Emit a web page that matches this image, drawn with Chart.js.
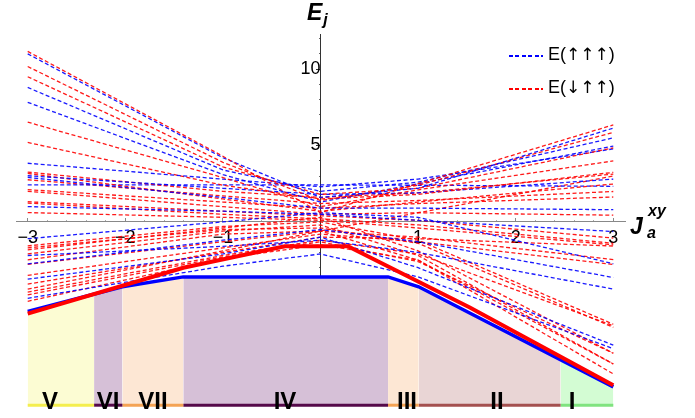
<!DOCTYPE html>
<html>
<head>
<meta charset="utf-8">
<script src="https://cdn.jsdelivr.net/npm/chart.js@4.4.1/dist/chart.umd.min.js"></script>
<style>
  body { margin: 0; background: #fff; }
  #wrap { position: relative; width: 695px; height: 418px; font-family: "Liberation Sans", Arial, sans-serif; }
  #c { position: absolute; left: 0; top: 0; }
  .t { position: absolute; white-space: nowrap; color: #000; }
  .bi { font-style: italic; font-weight: bold; }
  .reg { font-weight: bold; font-size: 24px; line-height: 24px; transform: translateX(-50%); }
  .leg { font-size: 18px; line-height: 18px; }
  .arr { font-family: "DejaVu Sans", sans-serif; font-size: 17px; }
  .dash { position: absolute; width: 34px; height: 1.5px; }
</style>
</head>
<body>
<div id="wrap">
  <canvas id="c" width="695" height="418"></canvas>

  <div class="t bi" style="left:307px;top:1px;font-size:23px;line-height:23px">E<span style="font-size:16px;position:relative;top:5px;margin-left:1px">j</span></div>

  <div class="t bi" style="left:630px;top:215px;font-size:23px;line-height:23px">J</div>
  <div class="t bi" style="left:648px;top:203px;font-size:16px;line-height:16px">xy</div>
  <div class="t bi" style="left:647px;top:225px;font-size:16px;line-height:16px">a</div>

  <div class="dash" style="left:509px;top:55px;background:repeating-linear-gradient(to right,#0000ff 0 4px,transparent 4px 6.5px)"></div>
  <div class="t leg" style="left:548px;top:45px">E(<span class="arr">↑↑↑</span>)</div>
  <div class="dash" style="left:509px;top:88px;background:repeating-linear-gradient(to right,#ff0000 0 4px,transparent 4px 6.5px)"></div>
  <div class="t leg" style="left:548px;top:78px">E(<span class="arr">↓↑↑</span>)</div>

  <div id="labels"></div>
</div>
<script>
// x positions where the dashed levels are sampled
const knots = [-3, -1, 0, 1, 3];

// E(↑↑↑) levels, values at the knots
const blueLines = [
  [11.0, 4.2, 1.6, 2.2, 6.14],
  [8.8, 3.4, 2.0, 2.6, 5.5],
  [7.83, 3.1, 1.3, 2.5, 4.96],
  [3.84, 2.8, 2.3, 2.8, 4.78],
  [3.02, 2.2, 1.8, 1.9, 2.8],
  [2.91, 1.6, 0.9, 0.9, 0.8],
  [2.42, 2.42, 2.42, 2.4, 2.33],
  [1.0, 0.7, 0.5, 0.1, -0.63],
  [-1.1, 0.0, 0.6, 0.3, -2.74],
  [-2.75, -1.2, -0.5, -1.3, -3.64],
  [-3.75, -2.1, -1.0, -3.0, -8.07],
  [-5.0, -2.9, -2.1, -3.6, -8.3],
  [-2.2, -1.6, -1.2, -2.0, -4.4]
];

// E(↓↑↑) levels
const redLines = [
  [11.16, 4.3, 0.6, 2.5, 6.35],
  [10.17, 3.9, 1.4, 2.4, 5.86],
  [9.5, 3.6, 1.8, 2.2, 4.85],
  [6.53, 2.9, 1.0, 2.1, 3.99],
  [5.2, 2.4, 1.5, 1.8, 3.24],
  [3.26, 2.0, 1.6, 1.9, 3.13],
  [3.17, 1.5, 0.7, 1.3, 2.48],
  [2.76, 1.7, 1.2, 1.4, 1.99],
  [2.11, 1.3, 0.9, 1.2, 1.63],
  [2.0, 1.0, 0.5, 0.6, 0.44],
  [1.32, 0.7, 0.4, 0.1, -1.06],
  [1.23, 0.5, 0.2, -0.2, -1.4],
  [0.61, 0.3, 0.1, -0.4, -1.5],
  [-1.57, -0.3, 0.0, -1.2, -6.7],
  [-1.7, -0.5, -0.4, -1.4, -6.9],
  [-1.83, -0.4, 0.3, -1.9, -8.6],
  [-2.1, -0.6, -0.2, -2.2, -9.3],
  [-2.48, -0.8, -0.6, -2.5, -9.95],
  [-2.78, -1.3, -0.6, -1.0, -2.47],
  [-3.5, -1.7, -0.8, -1.3, -2.79],
  [-4.07, -2.0, -1.0, -1.1, -1.58],
  [-4.4, -1.9, -0.6, 0.6, 3.0],
  [-4.6, -2.2, -1.2, -2.1, -6.8],
  [-4.78, -2.3, -1.3, -2.6, -8.6],
  [-5.2, -2.4, -1.5, -2.5, -9.3]
];

// lowest level of each family (thick lines)
const blueGroundX = [-3, -2.03, -1.406, 0.692, 1.006, 3];
const blueGroundY = [-5.86, -4.25, -3.6, -3.6, -4.25, -10.8];
const redGroundX = [-3, -1.406, -0.365, 0.28, 1.53, 3];
const redGroundY = [-6.0, -3.0, -1.6, -1.6, -5.6, -10.7];

// phases
const regionNames = ['V', 'VI', 'VII', 'IV', 'III', 'II', 'I'];
const regionEdges = [-3, -2.32, -2.03, -1.406, 0.692, 1.006, 2.46, 3];

const xTicks = [-3, -2, -1, 1, 2, 3];
const yTicks = [-10, -5, 5, 10];

const fillColors = ['#fcfcd3', '#d6c0d7', '#fde7d4', '#d6c0d7', '#fde7d4', '#e9d5d5', '#d3fcd3'];
const barColors = ['#f4ee4e', '#55094a', '#f4a354', '#55094a', '#f4a354', '#a4504f', '#80e37f'];

function interp(xs, ys, x) {
  for (let i = 0; i < xs.length - 1; i++) {
    if (x >= xs[i] && x <= xs[i + 1]) {
      let t = (x - xs[i]) / (xs[i + 1] - xs[i]);
      return ys[i] + t * (ys[i + 1] - ys[i]);
    }
  }
  return ys[ys.length - 1];
}

function ground(x) {
  return Math.min(interp(blueGroundX, blueGroundY, x), interp(redGroundX, redGroundY, x));
}

let datasets = [];

// shaded phases under the ground state
for (let i = 0; i < regionNames.length; i++) {
  let a = regionEdges[i], b = regionEdges[i + 1];
  let xs = [a, b].concat(blueGroundX, redGroundX).filter(x => x >= a && x <= b);
  xs = [...new Set(xs)].sort((p, q) => p - q);
  datasets.push({
    data: xs.map(x => ({ x: x, y: ground(x) })),
    backgroundColor: fillColors[i],
    borderWidth: 0,
    fill: 'start',
    pointRadius: 0,
    order: 20
  });
  datasets.push({
    data: [{ x: a, y: -12 }, { x: b, y: -12 }],
    borderColor: barColors[i],
    borderWidth: 3,
    pointRadius: 0,
    clip: false,
    order: 19
  });
}

function dashed(vals, color) {
  return {
    data: knots.map((x, k) => ({ x: x, y: vals[k] })),
    borderColor: color,
    borderWidth: 1.3,
    borderDash: [4, 2.5],
    pointRadius: 0,
    fill: false,
    order: 5
  };
}

let n = Math.max(blueLines.length, redLines.length);
for (let i = 0; i < n; i++) {
  if (redLines[i]) datasets.push(dashed(redLines[i], 'rgba(255,0,0,0.9)'));
  if (blueLines[i]) datasets.push(dashed(blueLines[i], 'rgba(0,0,255,0.9)'));
}

datasets.push({
  data: redGroundX.map((x, k) => ({ x: x, y: redGroundY[k] })),
  borderColor: '#ff0000',
  borderWidth: 4,
  pointRadius: 0,
  order: 1
});
datasets.push({
  data: blueGroundX.map((x, k) => ({ x: x, y: blueGroundY[k] })),
  borderColor: '#0000ff',
  borderWidth: 3.5,
  pointRadius: 0,
  order: 2
});

function minus(v) {
  return v < 0 ? '\u2212' + Math.abs(v) : String(v);
}

// minor tick values
let xMinor = [], yMinor = [];
for (let k = -15; k <= 15; k++) if (k % 5 !== 0) xMinor.push(k / 5);
for (let k = -11; k <= 12; k++) if (k % 5 !== 0) yMinor.push(k);

const tickFont = { family: 'Liberation Sans', size: 18 };

new Chart(document.getElementById('c'), {
  type: 'line',
  data: { datasets: datasets },
  options: {
    responsive: false,
    devicePixelRatio: 1,
    animation: false,
    events: [],
    layout: { padding: { left: 16, right: 70, top: 34, bottom: 9 } },
    plugins: { legend: { display: false }, tooltip: { enabled: false } },
    scales: {
      x: {
        type: 'linear',
        min: -3.12,
        max: 3.12,
        position: { y: 0 },
        afterBuildTicks: s => { s.ticks = xTicks.map(v => ({ value: v })); },
        ticks: { callback: v => minus(v), font: tickFont, color: '#000', padding: 9, maxRotation: 0, autoSkip: false },
        grid: { drawOnChartArea: false, tickLength: -4, tickColor: '#888' },
        border: { color: '#888', width: 1 }
      },
      x2: {
        type: 'linear',
        min: -3.12,
        max: 3.12,
        position: { y: 0 },
        afterBuildTicks: s => { s.ticks = xMinor.map(v => ({ value: v })); },
        ticks: { display: false },
        grid: { drawOnChartArea: false, tickLength: -2, tickColor: '#aaa' },
        border: { display: false }
      },
      y: {
        type: 'linear',
        min: -12,
        max: 12.3,
        position: { x: 0 },
        afterBuildTicks: s => { s.ticks = yTicks.map(v => ({ value: v })); },
        ticks: { callback: v => minus(v), font: tickFont, color: '#000', padding: 2, autoSkip: false },
        grid: { drawOnChartArea: false, tickLength: 4, tickColor: '#333' },
        border: { color: '#333', width: 1 }
      },
      y2: {
        type: 'linear',
        min: -12,
        max: 12.3,
        position: { x: 0 },
        afterBuildTicks: s => { s.ticks = yMinor.map(v => ({ value: v })); },
        ticks: { display: false },
        grid: { drawOnChartArea: false, tickLength: 2, tickColor: '#666' },
        border: { display: false }
      }
    }
  }
});

// phase labels
const labelX = [50, 108, 153, 285, 407, 497, 572];
let html = '';
regionNames.forEach((name, i) => {
  html += '<div class="t reg" style="left:' + labelX[i] + 'px;top:389px">' + name + '</div>';
});
document.getElementById('labels').innerHTML = html;
</script>
</body>
</html>
